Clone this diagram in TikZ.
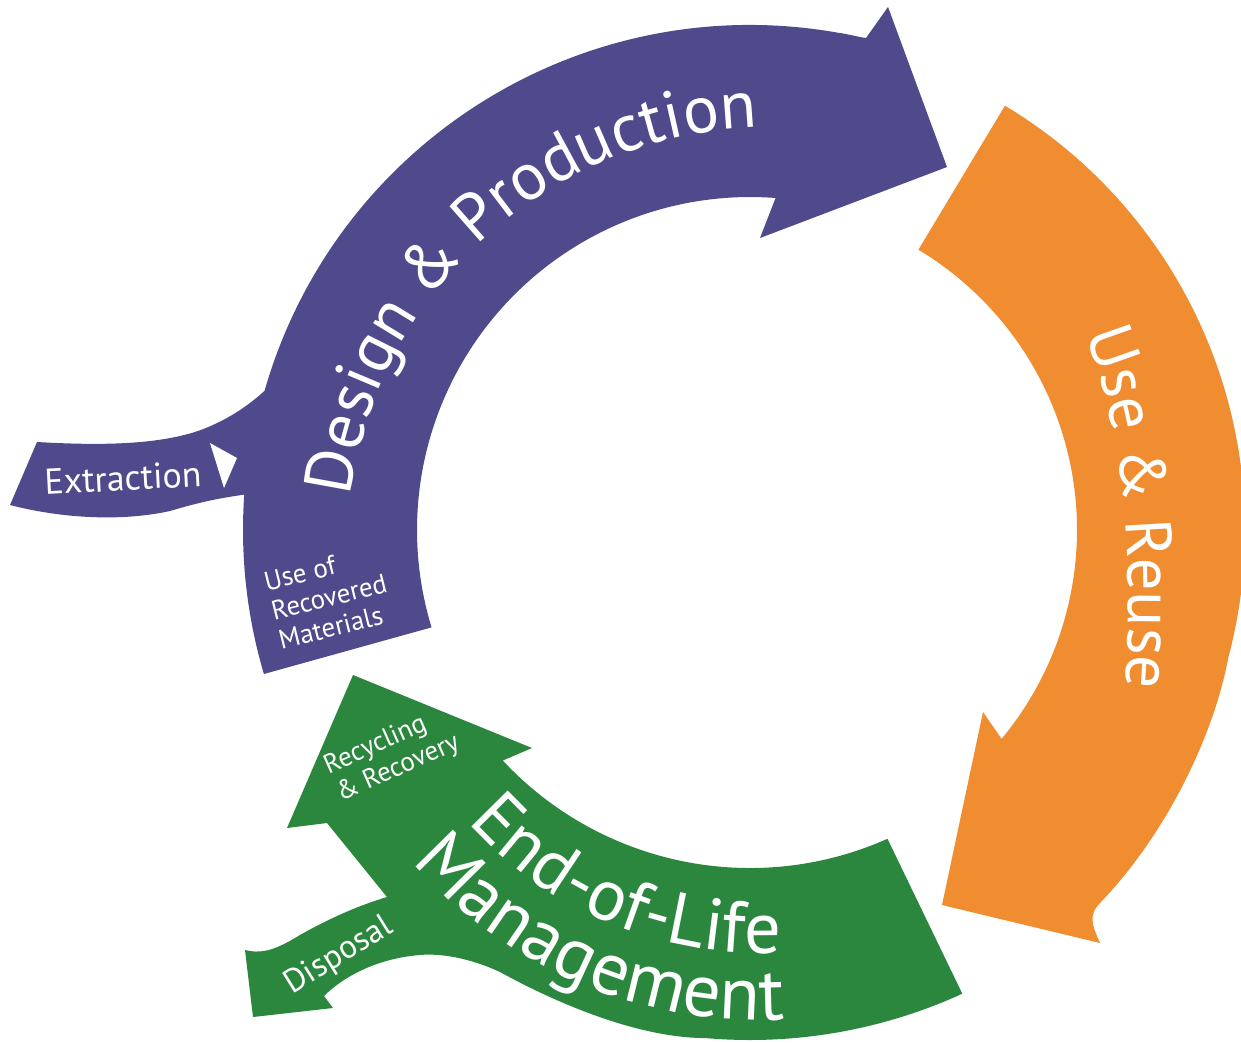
\documentclass[tikz,border=0pt]{standalone}
\usepackage{fontspec}
\setmainfont{PT Sans}
\usetikzlibrary{decorations.text,calc}
\definecolor{pur}{HTML}{4E4A8B}
\definecolor{ora}{HTML}{F08D30}
\definecolor{grn}{HTML}{2B873E}
\begin{document}
\begin{tikzpicture}[x=1pt,y=-1pt,
  lbl/.style 2 args={text=white,font=\fontsize{#1}{#2}\selectfont,inner sep=0pt},
  arctext/.style 2 args={decorate,decoration={text along path,text align=center,text color=white,
     text={|\fontsize{#1}{#1}\selectfont|#2}}},
  lefttext/.style 2 args={decorate,decoration={text along path,text align=left,text color=white,
     text={|\fontsize{#1}{#1}\selectfont|#2}}}]
\useasboundingbox (0,0) rectangle (1241,1042);
\fill[white] (0,0) rectangle (1241,1042);
\coordinate (C) at (750,530);
\coordinate (CP) at (771,551);
\coordinate (CG) at (760,560);

% Design & Production (purple)
\fill[pur] ($(C)+(196:505)$) arc[start angle=196,end angle=280,radius=505]
  .. controls (848,34) and (858,37) .. (866,38)
  -- (888,7) -- (947,167) -- (760,238) -- ($(C)+(274.4:333)$)
  arc[start angle=274.4,end angle=163,radius=333]
  -- ($(C)+(163.5:507)$) arc[start angle=163.5,end angle=184,radius=507]
  .. controls (220,498) and (200,502) .. (170,511)
  .. controls (120,522) and (60,518) .. (10,505)
  -- (37,442)
  .. controls (90,445) and (150,446) .. (195,432)
  .. controls (225,422) and (248,406) .. cycle;
\fill[white] (210,443) -- (237,458) -- (224,488) -- cycle;

% Use & Reuse (orange)
\fill[ora] ($(C)+(301:495)$) arc[start angle=301,end angle=375,radius=495]
  .. controls (1215,730) and (1170,830) .. (1100,903)
  .. controls (1088,915) and (1092,925) .. (1100,943)
  -- (942,905) -- (983,712) -- ($(C)+(39.7:327)$)
  arc[start angle=39.7,end angle=-59,radius=327] -- cycle;

% End-of-Life Management (green)
\fill[grn] ($(C)+(66:338)$) -- ($(C)+(65.4:510)$)
  arc[start angle=65.4,end angle=95,radius=510]
  .. controls (640,1038) and (560,1005) .. (500,972)
  .. controls (470,958) and (440,953) .. (420,955)
  .. controls (380,958) and (345,975) .. (324,996)
  -- (333,1008) -- (253,1017) -- (245,950)
  .. controls (265,955) and (280,947) .. (300,935)
  .. controls (330,918) and (360,905) .. (387,897)
  -- (327,823) -- (287,828) -- (353,675) -- (532,748) -- ($(C)+(137:338)$)
  arc[start angle=137,end angle=66,radius=338] -- cycle;

% curved titles
\path[arctext={67}{Design {\&} Production}] ($(CP)+(177.8:424)$) arc[start angle=177.8,end angle=277.8,radius=424];
\path[lefttext={65}{Use {\&} Reuse}] (1085,335) .. controls (1127,440) and (1140,580) .. (1118,760);
\path[arctext={73}{End-of-Life}] ($(CG)+(162.5:393)$) arc[start angle=162.5,end angle=62.5,radius=393];
\path[arctext={75}{Management}] ($(CG)+(163:460)$) arc[start angle=163,end angle=63,radius=460];

% small labels
\node[lbl={36}{40},rotate=3] (ext) at (123,478) {Extraction};
\node[lbl={27}{30},rotate=14,align=left] (urm) at (329,597) {Use of\\Recovered\\Materials};
\node[lbl={27}{30},rotate=24,align=left] (rr) at (392,755) {Recycling\\\& Recovery};
\node[lbl={33}{36},rotate=32] (disp) at (339,956) {Disposal};
\end{tikzpicture}
\end{document}
